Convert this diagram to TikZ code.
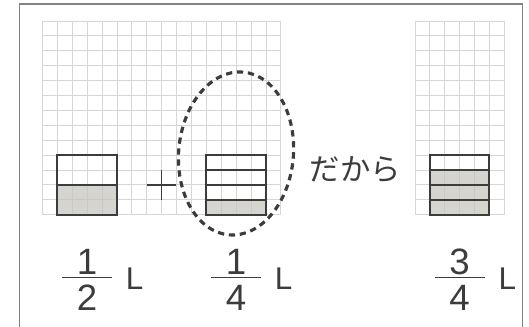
\documentclass[tikz,border=0pt]{standalone}
\usepackage{fontspec}
\setmainfont{Liberation Sans}
\newfontfamily\jpfont{Noto Sans CJK JP}
\definecolor{cGrid}{RGB}{214,214,214}
\definecolor{cInk}{RGB}{60,60,60}
\definecolor{cFill}{RGB}{200,197,190}
\definecolor{cFrame}{RGB}{130,130,130}

\begin{document}
\begin{tikzpicture}[
  x=0.5cm,y=0.5cm, color=cInk,
  gridln/.style={draw=cGrid, line width=0.6pt, step=0.5cm},
  cup/.style   ={draw=cInk, line width=2pt},
  part/.style  ={fill=cFill, fill opacity=0.75},
  ring/.style  ={draw=cInk, line width=3pt, dash pattern=on 6pt off 4.5pt},
  num/.style   ={font=\fontsize{35}{36}\selectfont, inner sep=0pt},
  fbar/.style  ={fill=cInk, minimum width=1.68cm, minimum height=1.4pt, inner sep=0pt},
  unit/.style  ={font=\fontsize{30}{32}\selectfont, inner sep=0pt},
]
\useasboundingbox (-2.84,-7.48) rectangle (32.66,14.4);

% ----- frame, open at the bottom ----------------------------------------
\draw[cFrame,line width=1.4pt] (-1.54,-7.8) -- (-1.54,14.13) -- (32.24,14.13) -- (32.24,-7.8);

% ----- squared paper ----------------------------------------------------
\draw[gridln] (0,0) grid (16,13);
\draw[gridln] (25,0) grid (31,13);

% ----- the three cups ---------------------------------------------------
\fill[part] (1,0)  rectangle (5,2);
\fill[part] (11,0) rectangle (15,1);
\fill[part] (26,0) rectangle (30,3);
\draw[cup] (1,0) rectangle (5,4) (1,2) -- (5,2);
\draw[cup] (11,0) rectangle (15,4);
\draw[cup] (26,0) rectangle (30,4);
\foreach \y in {1,2,3}{
  \draw[cup] (11,\y) -- (15,\y);
  \draw[cup] (26,\y) -- (30,\y);}

% ----- plus sign and the dashed ring ------------------------------------
\draw[cInk,line width=1.4pt] (7,2) -- (9,2) (8,1) -- (8,3);
\draw[ring,rotate around={-5:(13,4.1)}] (13,4.1) ellipse [x radius=3.85,y radius=5.48];

\node[font=\jpfont\fontsize{29}{30}\selectfont] (dakara) at (21,3) {だから};

% ----- amounts under the cups -------------------------------------------
\foreach \nm/\x/\a/\b in {h/3/1/2,q/13/1/4,t/28/3/4}{
  \node[num]  (n\nm) at (\x,-3.15) {\a};
  \node[fbar] (b\nm) at (\x,-4.21) {};
  \node[num]  (d\nm) at (\x,-5.6)  {\b};
  \node[unit] (u\nm) at (\x+3.2,-4.31) {L};}
\end{tikzpicture}
\end{document}
